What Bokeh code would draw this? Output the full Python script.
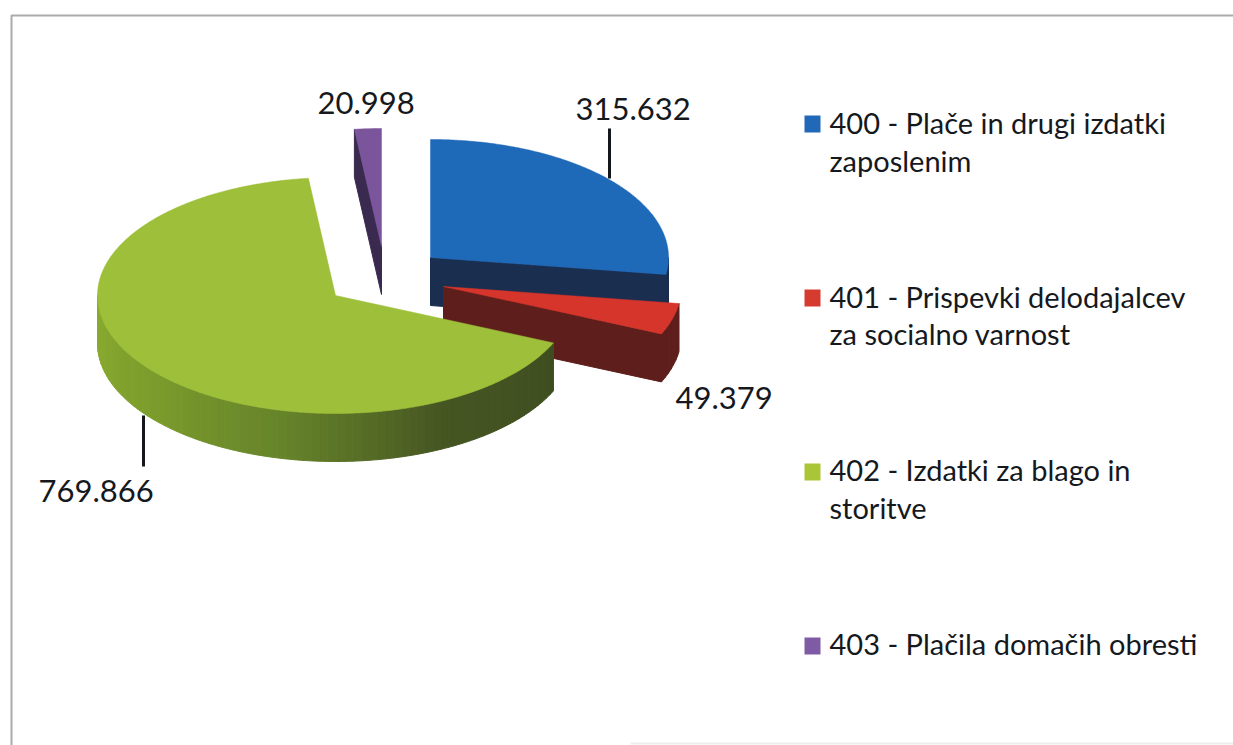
import numpy as np
from bokeh.embed import file_html
from bokeh.resources import INLINE
from bokeh.plotting import figure
from bokeh.core.properties import value

# --- data ---
codes = ["400", "401", "402", "403"]
values = [315632, 49379, 769866, 20998]
value_labels = ["315.632", "49.379", "769.866", "20.998"]
legend_lines = [
    ["400 - Plače in drugi izdatki", "zaposlenim"],
    ["401 - Prispevki delodajalcev", "za socialno varnost"],
    ["402 - Izdatki za blago in", "storitve"],
    ["403 - Plačila domačih obresti"],
]

# --- styles ---
top_colors = ["#1F69B9", "#D5352B", "#9DBF39", "#7A559C"]
face_colors = ["#1A2E50", "#5E1F1C", "#43511F", "#3A2A50"]
swatch_colors = ["#2268B8", "#D63B30", "#AAC536", "#7F5AA5"]
FONT = "Lato"
TEXT = "#15191D"

# --- layout (page pixels): exploded slice apexes of the 3D pie, and radii ---
RX, RY, DEPTH = 238, 118, 48
apexes = [(430, 257), (443, 286), (335, 295), (381, 246)]
radial_face = ["end", "end", None, "start"]
label_pos = [(575, 108), (675, 397), (38, 490), (317, 102)]
leaders = [(609, 128, 178), (143, 415, 466)]
legend_x, swatch_x, swatch_w, swatch_h = 829, 804, 16, 17
swatch_tops = [115, 289, 463, 637]
legend_base = [(122, 160), (296, 333), (469, 507), (643,)]
GREEN_RIM = ["#8AAC2F", "#7D9D2C", "#66842A", "#465622", "#3F4E20"]

p = figure(width=1233, height=745, x_range=(0, 1233), y_range=(745, 0),
           output_backend="svg", toolbar_location=None,
           x_axis_type=None, y_axis_type=None, min_border=0,
           outline_line_color=None, background_fill_color="white",
           border_fill_color="white")
p.grid.visible = False


def rim(cx, cy, a):
    a = np.radians(a)
    return cx + RX * np.sin(a), cy - RY * np.cos(a)


def hexlerp(stops, t):
    rgb = [[int(s[i:i + 2], 16) for i in (1, 3, 5)] for s in stops]
    pos = t * (len(stops) - 1)
    i = min(int(pos), len(stops) - 2)
    f = pos - i
    c = [round(rgb[i][k] * (1 - f) + rgb[i + 1][k] * f) for k in range(3)]
    return "#%02X%02X%02X" % tuple(c)


# page border
p.line([11, 11, 1233], [745, 15, 15], line_color="#ABABAB", line_width=2)
p.line([630, 1233], [743, 743], line_color="#EDEDED", line_width=2)

# slices, from the values, clockwise from 12 o'clock
total = sum(values)
edges = np.concatenate([[0], np.cumsum(values)]) / total * 360
for i in range(len(values)):
    cx, cy = apexes[i]
    a0, a1 = edges[i], edges[i + 1]
    angles = np.linspace(a0, a1, max(4, int((a1 - a0) * 2)))
    xs, ys = rim(cx, cy, angles)

    # outer wall, only where it faces the viewer (90 to 270 degrees)
    lo, hi = max(a0, 90), min(a1, 270)
    if lo < hi:
        n = max(2, int((hi - lo) / 2))
        steps = np.linspace(lo, hi, n + 1)
        for j in range(n):
            seg = np.linspace(steps[j], steps[j + 1], 4)
            sx, sy = rim(cx, cy, seg)
            if i == 2:
                t = (steps[j] - lo) / (hi - lo)
                col = hexlerp(GREEN_RIM[::-1], t)
            else:
                col = face_colors[i]
            p.patch(list(sx) + list(sx[::-1]),
                    list(sy) + list((sy + DEPTH)[::-1]),
                    fill_color=col, line_color=col, line_width=1)

    # cut face
    if radial_face[i]:
        ex, ey = rim(cx, cy, a1 if radial_face[i] == "end" else a0)
        p.patch([cx, ex, ex, cx], [cy, ey, ey + DEPTH, cy + DEPTH],
                fill_color=face_colors[i], line_color=face_colors[i], line_width=1)

    # top surface
    p.patch([cx] + list(xs), [cy] + list(ys),
            fill_color=top_colors[i], line_color=top_colors[i], line_width=0.5)

# leader lines
for lx, y0, y1 in leaders:
    p.line([lx, lx], [y0, y1], line_color="#14181C", line_width=3)

# value labels
for (lx, ly), txt in zip(label_pos, value_labels):
    p.text([lx], [ly], text=[txt], text_font=value(FONT), text_font_size="31px",
           text_color=TEXT, text_align="left", text_baseline="alphabetic")

# legend
for lines, bases, col, top in zip(legend_lines, legend_base, swatch_colors, swatch_tops):
    p.quad(left=[swatch_x], right=[swatch_x + swatch_w], top=[top], bottom=[top + swatch_h],
           fill_color=col, line_color=None)
    for line, b in zip(lines, bases):
        p.text([legend_x], [b], text=[line], text_font=value(FONT), text_font_size="29px",
               text_color=TEXT, text_align="left", text_baseline="alphabetic")

open("out.html", "w").write(file_html(p, INLINE))
